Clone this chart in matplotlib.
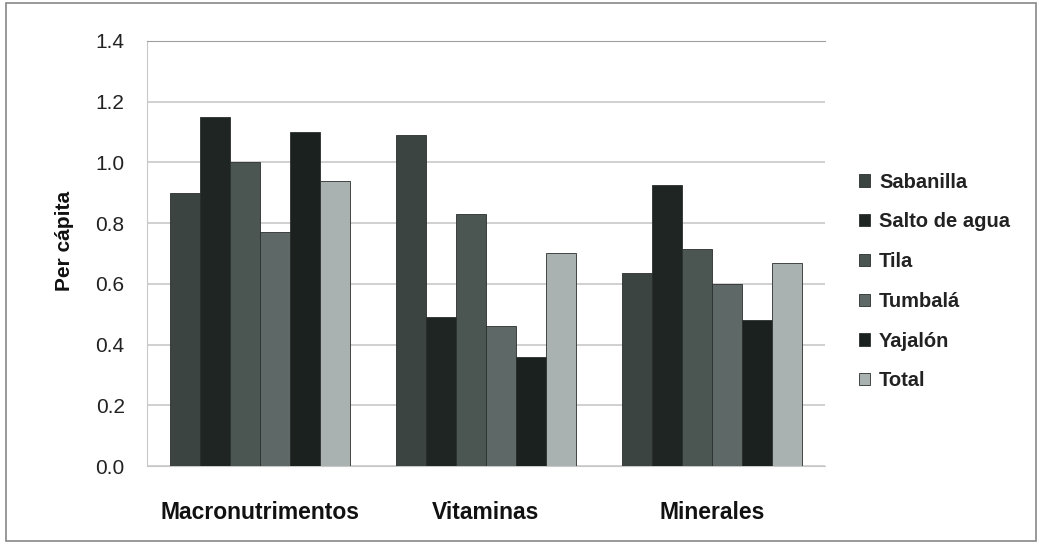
import matplotlib
matplotlib.use("Agg")
import matplotlib.pyplot as plt
import numpy as np
from matplotlib.patches import Rectangle

categories = ["Macronutrimentos", "Vitaminas", "Minerales"]
series_names = ["Sabanilla", "Salto de agua", "Tila", "Tumbalá", "Yajalón", "Total"]
sabanilla = [0.90, 1.09, 0.635]
salto = [1.15, 0.49, 0.925]
tila = [1.00, 0.83, 0.715]
tumbala = [0.77, 0.46, 0.60]
yajalon = [1.10, 0.36, 0.48]
total = [0.94, 0.70, 0.67]
yticks = [0.0, 0.2, 0.4, 0.6, 0.8, 1.0, 1.2, 1.4]

series = [sabanilla, salto, tila, tumbala, yajalon, total]
colors = ["#3b4441", "#1e2522", "#4b5552", "#5e6866", "#1b211f", "#a9b1b1"]

plt.rcParams['font.family'] = ['Liberation Sans', 'DejaVu Sans']
fig = plt.figure(figsize=(10.4, 5.43), dpi=100)
ax = fig.add_axes([0.1413, 0.1418, 0.6520, 0.7827])

x = np.arange(len(categories)) + 0.5
n = len(series)
gw = 0.8
bw = gw / n
for i, (vals, c, name) in enumerate(zip(series, colors, series_names)):
    pos = x - gw / 2 + bw * (i + 0.5)
    ax.bar(pos, vals, width=bw, color=c, edgecolor="#2a2f2d", linewidth=0.6, label=name, zorder=3)

ax.set_xlim(0, 3)
ax.set_ylim(0, 1.4)
ax.set_yticks(yticks)
ax.set_yticklabels([f"{v:.1f}" for v in yticks], fontsize=15, color="#222222")
ax.set_xticks(x)
ax.set_xticklabels(categories, fontsize=16.5, fontweight="bold", color="#111111")
ax.tick_params(axis="x", length=0, pad=25)
ax.tick_params(axis="y", length=0, pad=16)
ax.grid(axis="y", color="#c8c8c8", linewidth=1.2, zorder=0)
ax.spines["right"].set_visible(False)
ax.spines["left"].set_color("#c8c8c8")
ax.spines["top"].set_color("#a0a0a0")
ax.spines["bottom"].set_color("#c8c8c8")
ax.set_ylabel("Per cápita", fontsize=15, fontweight="bold", labelpad=12, color="#111111")
ax.yaxis.set_label_coords(-0.108, 0.53)

leg = fig.legend(loc="upper left", bbox_to_anchor=(0.826, 0.682), frameon=False,
                 fontsize=14.5, handlelength=0.55, handleheight=0.55, handletextpad=0.45,
                 labelspacing=1.03, borderaxespad=0, borderpad=0)
for t in leg.get_texts():
    t.set_fontweight("bold")
    t.set_color("#222222")

fig.patches.append(Rectangle((0.006, 0.004), 0.99, 0.99, transform=fig.transFigure,
                             fill=False, edgecolor="#888888", linewidth=1.2))
fig.savefig("out.png", dpi=100)
